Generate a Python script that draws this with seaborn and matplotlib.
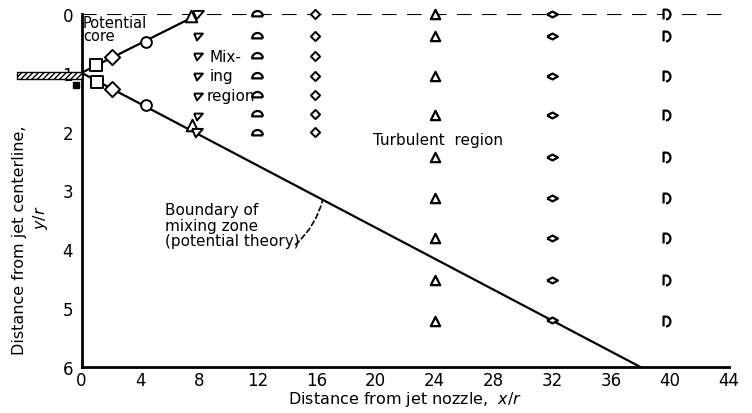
import numpy as np
import pandas as pd
import matplotlib
matplotlib.use("Agg")
import matplotlib.pyplot as plt
from matplotlib.patches import Rectangle
import seaborn as sns

# ---- data -------------------------------------------------------------
# theoretical boundaries of the mixing zone
core_x = [0, 8]
core_y = [1, 0]
mix_x = [0, 38]
mix_y = [1, 6]

# measured boundary points near the nozzle
sq_x = [1.0, 1.05]
sq_y = [0.86, 1.16]
dia_x = [2.1, 2.1]
dia_y = [0.73, 1.27]
circ_x = [4.4, 4.4]
circ_y = [0.47, 1.54]
triup_x = [7.45, 7.5]
triup_y = [0.03, 1.89]
tridn_x = [7.95, 7.85]
tridn_y = [0.0, 2.0]

# survey stations
st8_x = 7.95
st8_y = [0.38, 0.72, 1.06, 1.39, 1.73]
st12_x = 11.95
st12_y = [0.0, 0.38, 0.71, 1.05, 1.38, 1.70, 2.03]
st16_x = 15.85
st16_y = [0.0, 0.38, 0.71, 1.05, 1.38, 1.70, 2.0]
st24_x = 24.0
st24_y = [0.0, 0.37, 1.06, 1.72, 2.43, 3.12, 3.81, 4.52, 5.22]
st32_x = 32.0
st32_y = [0.0, 0.37, 1.06, 1.72, 2.43, 3.12, 3.81, 4.52, 5.2]
st40_x = 39.8
st40_y = [0.0, 0.37, 1.06, 1.72, 2.43, 3.12, 3.81, 4.52, 5.22]

xticks = [0, 4, 8, 12, 16, 20, 24, 28, 32, 36, 40, 44]
yticks = [0, 1, 2, 3, 4, 5, 6]

# ---- style ------------------------------------------------------------
sns.set_style("white")
plt.rcParams["font.family"] = ["DejaVu Sans"]
plt.rcParams["text.color"] = "black"
plt.rcParams["axes.labelcolor"] = "black"

fig = plt.figure(figsize=(7.52, 4.14), dpi=100)
ax = fig.add_axes([0.1084, 0.1111, 0.8606, 0.8527])

# marker shapes
t = np.linspace(0, np.pi, 16)
dome = [(np.cos(a), np.sin(a) - 0.35) for a in t] + [(1, -0.35)]
t2 = np.linspace(-np.pi / 2, np.pi / 2, 16)
dshape = [(-0.3, -1)] + [(np.cos(a) * 0.9 - 0.3, np.sin(a)) for a in t2] + [(-0.8, 1), (-0.8, -1)]
eye = [(-1, 0), (0, 0.55), (1, 0), (0, -0.55), (-1, 0)]
wedge = [(-0.9, 0.6), (0.9, 0.6), (-0.3, -0.8), (-0.9, 0.6)]

def pts(x, y, marker, s, lw=1.4):
    df = pd.DataFrame({"x": x if np.ndim(x) else [x] * len(y), "y": y})
    sns.scatterplot(data=df, x="x", y="y", marker=marker, s=s, facecolor="white",
                    edgecolor="black", linewidth=lw, ax=ax, zorder=5, clip_on=False)

# centerline
ax.axhline(0, color="black", lw=1.5, ls=(0, (7, 5)), zorder=1)

# boundary lines
sns.lineplot(x=core_x, y=core_y, color="black", lw=1.6, ax=ax, zorder=2)
sns.lineplot(x=mix_x, y=mix_y, color="black", lw=1.6, ax=ax, zorder=2)

pts(sq_x, sq_y, "s", 70)
pts(dia_x, dia_y, "D", 60)
pts(circ_x, circ_y, "o", 60)
pts(triup_x, triup_y, "^", 70)
pts(tridn_x, tridn_y, wedge, 60)

pts(st8_x, st8_y, wedge, 40)
pts(st12_x, st12_y, dome, 60, lw=1.6)
pts(st16_x, st16_y, "D", 22)
pts(st24_x, st24_y, "^", 45, lw=1.6)
pts(st32_x, st32_y, eye, 60, lw=1.6)
pts(st40_x, st40_y, dshape, 50, lw=1.6)

# nozzle wall
ax.add_patch(Rectangle((-4.4, 0.98), 4.4, 0.12, facecolor="white", edgecolor="black",
                       hatch="//////", lw=1.0, clip_on=False, zorder=4))
ax.plot([-0.35], [1.2], marker="s", ms=5, mfc="black", mec="black", clip_on=False, zorder=5)

# texts
ax.text(0.1, 0.02, "Potential\ncore", fontsize=10.5, va="top", ha="left", linespacing=0.85)
ax.text(8.7, 0.72, "Mix-", fontsize=11, va="center", ha="left")
ax.text(8.7, 1.05, "ing", fontsize=11, va="center", ha="left")
ax.text(8.5, 1.38, "region", fontsize=11, va="center", ha="left")
ax.text(19.8, 2.13, "Turbulent  region", fontsize=11, va="center", ha="left")
ax.text(5.7, 3.59, "Boundary of\nmixing zone\n(potential theory)", fontsize=11,
        va="center", ha="left", linespacing=1.05)
ax.annotate("", xy=(16.4, 3.16), xytext=(14.55, 3.92),
            arrowprops=dict(arrowstyle="-", ls=(0, (3, 2)), lw=1.2, color="black",
                            connectionstyle="arc3,rad=0.15", shrinkA=0, shrinkB=0))

# axes
ax.set_xlim(0, 44)
ax.set_ylim(6, 0)
ax.set_xticks(xticks)
ax.set_yticks(yticks)
ax.tick_params(direction="in", length=6, width=1.5, labelsize=12, colors="black")
ax.tick_params(axis="x", pad=3)
ax.tick_params(axis="y", pad=6)
for side in ["top", "right"]:
    ax.spines[side].set_visible(False)
for side in ["left", "bottom"]:
    ax.spines[side].set_linewidth(2)
    ax.spines[side].set_color("black")
ax.set_xlabel("Distance from jet nozzle,  $x/r$", fontsize=11.5, labelpad=0)
ax.set_ylabel("")
fig.text(20 / 752, 1 - 240 / 414, "Distance from jet centerline,", rotation=90,
         fontsize=11.5, ha="center", va="center")
fig.text(40 / 752, 1 - 218 / 414, "$y/r$", rotation=90,
         fontsize=11.5, ha="center", va="center")

fig.savefig("out.png", dpi=100, facecolor="white")
